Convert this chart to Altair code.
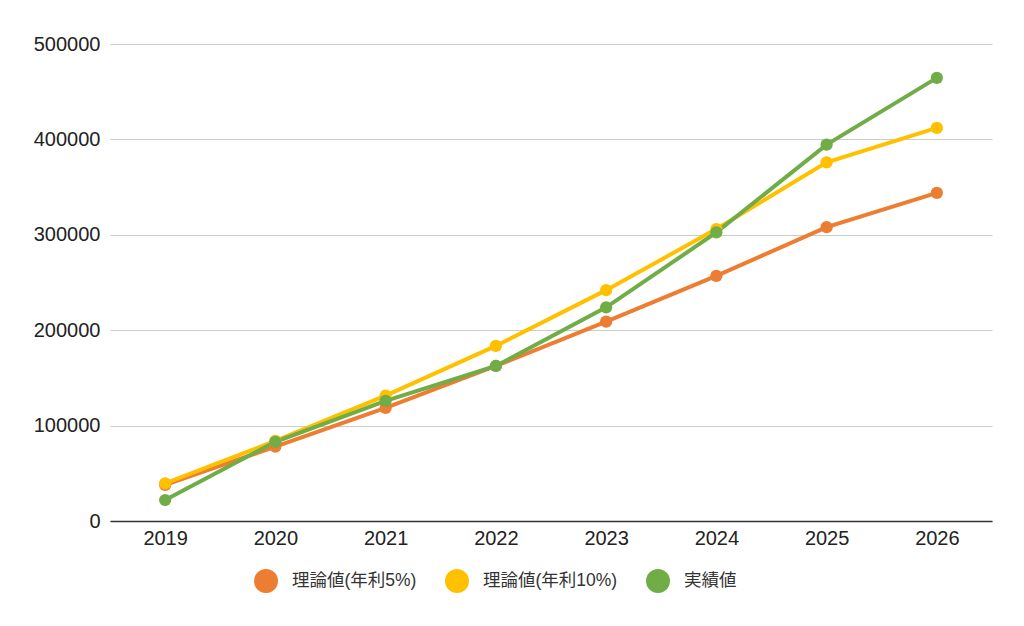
import altair as alt
import pandas as pd

years = ["2019", "2020", "2021", "2022", "2023", "2024", "2025", "2026"]
series_names = ["理論値(年利5%)", "理論値(年利10%)", "実績値"]
rate5 = [37800, 78000, 118500, 162500, 209000, 257000, 308000, 344000]
rate10 = [39500, 84000, 131500, 183500, 242000, 306000, 376000, 412000]
actual = [22000, 83000, 126000, 162500, 224000, 302500, 394500, 464500]
colors = ["#ED7D31", "#FFC000", "#70AD47"]
y_ticks = [0, 100000, 200000, 300000, 400000, 500000]

rows = []
for k, (name, vals) in enumerate(zip(series_names, [rate5, rate10, actual])):
    for yr, v in zip(years, vals):
        rows.append({"year": yr, "value": v, "series": name, "k": k})
df = pd.DataFrame(rows)

FONT = "Liberation Sans, Noto Sans CJK JP, sans-serif"

x_enc = alt.X(
    "year:O",
    scale=alt.Scale(type="point", padding=0.5),
    axis=alt.Axis(
        title=None, labelAngle=0, ticks=False, tickSize=0, grid=False,
        domainColor="#333333", domainWidth=1.5, labelPadding=7,
        labelFontSize=20, labelColor="#222222", labelFont=FONT,
    ),
)
y_enc = alt.Y(
    "value:Q",
    scale=alt.Scale(domain=[0, 500000], nice=False),
    axis=alt.Axis(
        title=None, values=y_ticks, format="d", ticks=False, tickSize=0,
        domain=False, grid=True, gridColor="#cccccc", gridWidth=1.2,
        labelPadding=10, labelFontSize=20, labelColor="#222222", labelFont=FONT,
    ),
)
color_scale = alt.Scale(domain=series_names, range=colors)

lines = alt.Chart(df).mark_line(strokeWidth=4).encode(
    x=x_enc, y=y_enc,
    color=alt.Color("series:N", scale=color_scale, sort=series_names, legend=None),
    order=alt.Order("k:Q"),
)

points = alt.Chart(df).mark_circle(size=150, opacity=1).encode(
    x=x_enc, y=y_enc,
    color=alt.Color(
        "series:N",
        scale=color_scale,
        sort=series_names,
        legend=alt.Legend(
            title=None, orient="none", legendX=144, legendY=525,
            direction="horizontal", symbolType="circle", symbolSize=576,
            symbolOpacity=1, symbolStrokeWidth=0, labelFontSize=17.5,
            labelOffset=14, columnPadding=28, labelFont=FONT,
            labelColor="#333333", padding=0,
        ),
    ),
    order=alt.Order("k:Q"),
)

chart = alt.layer(lines, points).resolve_legend(color="independent").properties(
    width=882, height=477,
    background="white",
    autosize=alt.AutoSizeParams(type="none"),
    padding={"left": 102, "top": 36, "right": 24, "bottom": 80},
).configure_view(stroke=None)

chart.save("out.html", embed_options={"renderer": "svg", "actions": False})
